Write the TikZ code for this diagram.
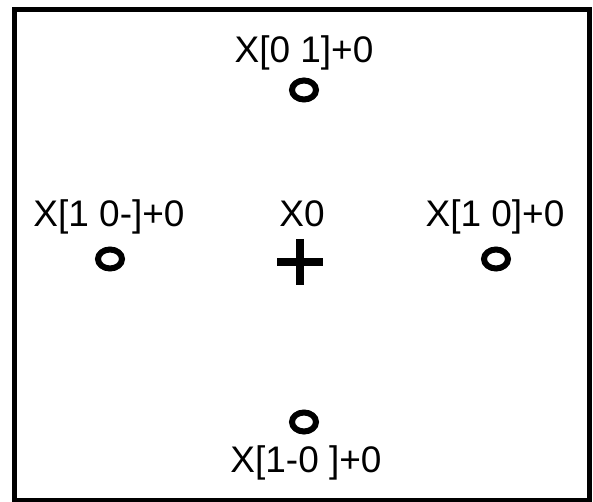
\documentclass[tikz,border=0pt]{standalone}
\usepackage{fontspec}
\setmainfont{Liberation Sans}
\usepackage{tikz}
\usetikzlibrary{shapes.geometric}

\begin{document}
\begin{tikzpicture}[x=1pt,y=-1pt]
\tikzset{ring/.style={draw,ellipse,line width=6pt,minimum width=24pt,minimum height=19pt,inner sep=0pt}}
\tikzset{plusmark/.style={minimum size=46pt,inner sep=0pt,path picture={
  \draw[line width=8.5pt] (path picture bounding box.west) -- (path picture bounding box.east);
  \draw[line width=8.5pt] (path picture bounding box.north) -- (path picture bounding box.south);}}}
\tikzset{tag/.style={anchor=base,inner sep=0pt,font=\fontsize{37}{40}\selectfont}}
\useasboundingbox (0,0) rectangle (593,502);
\draw[line width=5pt] (14,9.5) rectangle (589.5,500);

\node (n) at (304,90) [ring] {};
\node (w) at (110,259) [ring] {};
\node (e) at (496,259) [ring] {};
\node (s) at (304,422) [ring] {};
\node (c) at (300,262) [plusmark] {};

\node (tn) at (304,63) [tag] {X[0 1]+0};
\node (tw) at (109,227) [tag] {X[1 0-]+0};
\node (tc) at (302,227) [tag] {X0};
\node (te) at (495,227) [tag] {X[1 0]+0};
\node (ts) at (306,472) [tag] {X[1-0 ]+0};
\end{tikzpicture}
\end{document}
